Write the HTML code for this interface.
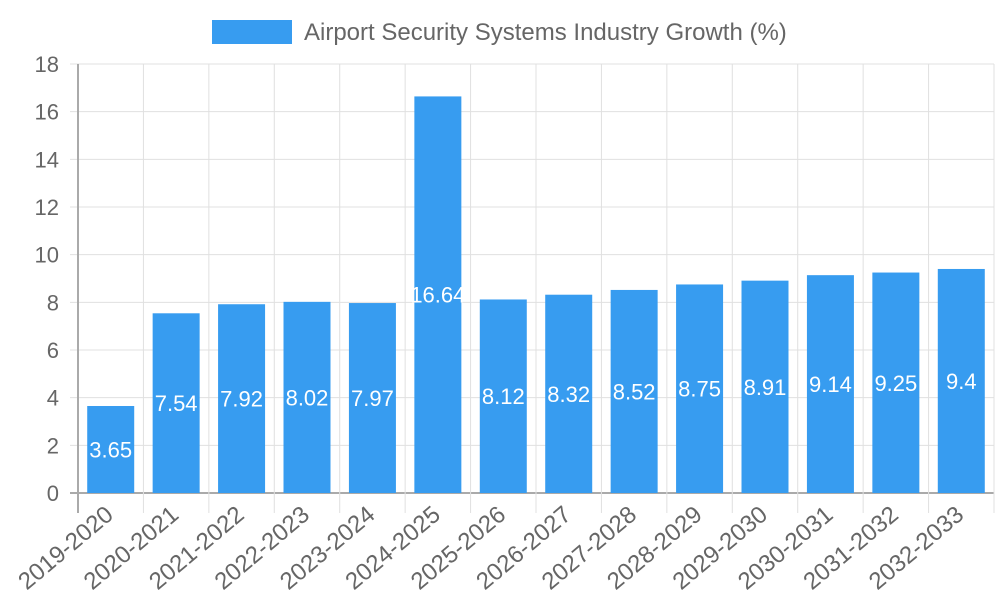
<!DOCTYPE html>
<html><head><meta charset="utf-8"><style>
body{margin:0;background:#fff;font-family:"Liberation Sans",sans-serif}
svg text{font-family:"Liberation Sans",sans-serif}
</style></head><body>
<svg id="c" width="1000" height="600"></svg>
<script>
const categories=["2019-2020","2020-2021","2021-2022","2022-2023","2023-2024","2024-2025","2025-2026","2026-2027","2027-2028","2028-2029","2029-2030","2030-2031","2031-2032","2032-2033"];
const values=[3.65,7.54,7.92,8.02,7.97,16.64,8.12,8.32,8.52,8.75,8.91,9.14,9.25,9.4];
const yTicks=[0,2,4,6,8,10,12,14,16,18];
const NS="http://www.w3.org/2000/svg";
const svg=document.getElementById('c');
const L=78,R=994,T=64,B=493,yMax=18;
const y=v=>B-(v/yMax)*(B-T);
const band=(R-L)/categories.length;
const x=i=>L+band*i;
function mk(t,a,p){const e=document.createElementNS(NS,t);for(const k in a)e.setAttribute(k,a[k]);(p||svg).appendChild(e);return e;}
yTicks.forEach(t=>{
 const g=mk('line',{x1:70,x2:R,y1:y(t),y2:y(t),stroke:t===0?'#aaa':'#e0e0e0','stroke-width':t===0?2:1});
 
 
 const tx=mk('text',{x:59,y:y(t)+8,'text-anchor':'end','font-size':22,fill:'#666'});tx.textContent=t;
 
 
});
for(let i=0;i<=categories.length;i++){
 const g=mk('line',{x1:x(i),x2:x(i),y1:T,y2:513,stroke:i===0?'#aaa':'#e0e0e0','stroke-width':i===0?2:1});
 
 
}
const bw=47;
values.forEach((v,i)=>{
 const cx=x(i)+band/2;
 const r=mk('rect',{x:cx-bw/2,y:y(v),width:bw,height:B-y(v),fill:'#379cf0'});
 
 
 const t=mk('text',{x:cx,y:(y(v)+B)/2+8,'text-anchor':'middle','font-size':22,fill:'#fff'});t.textContent=v;
 
 
 const xl=mk('text',{transform:`translate(${cx+4},${517}) rotate(-40)`,'text-anchor':'end','font-size':24,fill:'#666'});xl.textContent=categories[i];
 
 
});
const lb=mk('rect',{x:212,y:20,width:80,height:24,fill:'#379cf0'});


const lt=mk('text',{x:304,y:40,'font-size':24,fill:'#666'});lt.textContent='Airport Security Systems Industry Growth (%)';


</script>
</body></html>
